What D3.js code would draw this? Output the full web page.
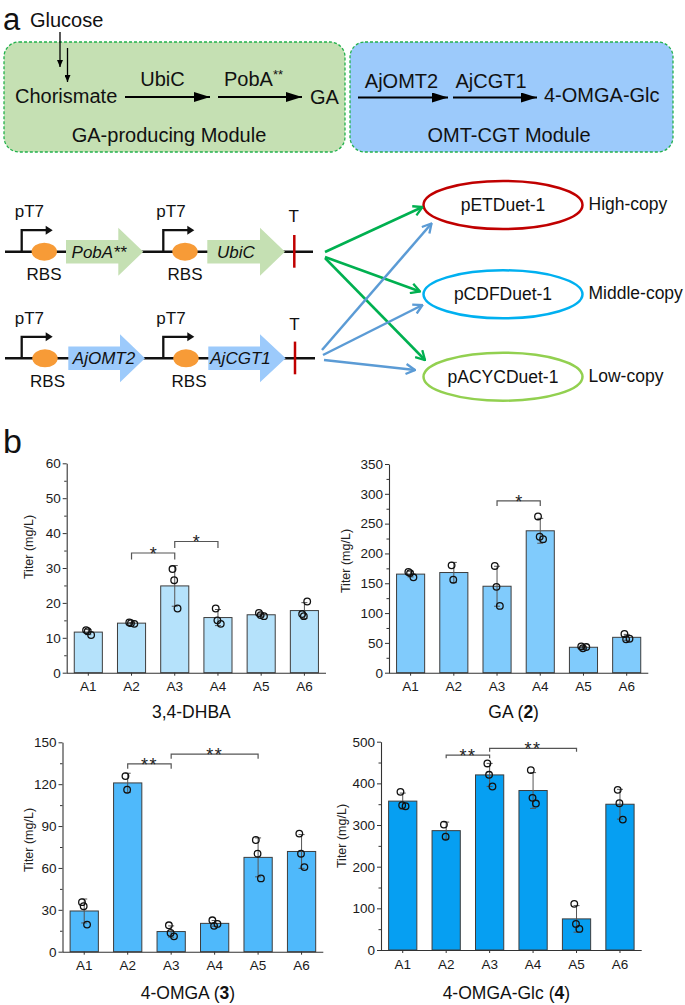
<!DOCTYPE html>
<html>
<head>
<meta charset="utf-8">
<script src="https://cdn.jsdelivr.net/npm/d3@7"></script>
<style>
  body { margin: 0; background: #fff; }
  svg { display: block; font-family: "Liberation Sans", Arial, sans-serif; }
</style>
</head>
<body>
<div id="fig"></div>
<script>
// categories
var groups = ["A1", "A2", "A3", "A4", "A5", "A6"];

// replicate titers (mg/L)
var dhbaReps = [[12.2, 11.9, 10.8], [14.4, 14.2, 14.0], [29.7, 26.5, 18.4], [18.4, 15.0, 14.0], [17.1, 16.5, 16.2], [16.8, 16.2, 20.4]];
var gaReps = [[169, 167, 160], [180, 156], [179, 144, 112], [262, 228, 224], [44, 41, 43], [65, 56, 57]];
var omgaReps = [[35.5, 32.6, 19.4], [125.8, 116.0], [18.9, 13.4, 11.0], [22.5, 18.5, 19.9], [80.0, 70.2, 52.5], [84.6, 70.2, 60.6]];
var glcReps = [[379.6, 347.5, 345.0], [301, 272], [447.8, 420.5, 392.5], [431.8, 365.2, 351.5], [110.8, 62.6, 50.6], [384.4, 352.3, 313]];

// significance brackets: from group, to group, level (mg/L), mark
var dhbaSig = [["A2", "A3", 34.3, "*"], ["A3", "A4", 37.6, "*"]];
var gaSig = [["A3", "A4", 288, "*"]];
var omgaSig = [["A2", "A3", 134.5, "**"], ["A3", "A5", 141.5, "**"]];
var glcSig = [["A2", "A3", 468, "**"], ["A3", "A5", 484, "**"]];

// axis maxima and major tick steps
var yMax = [60, 350, 150, 500];
var yStep = [10, 50, 30, 100];
var titleMain = ["3,4-DHBA", "GA", "4-OMGA", "4-OMGA-Glc"];
var titleNo = [null, "2", "3", "4"];

var svg = d3.select("#fig").append("svg")
  .attr("width", 685)
  .attr("height", 1005);

svg.append("rect").attr("width", 685).attr("height", 1005).attr("fill", "#fff");

var defs = svg.append("defs");
function headMarker(id, len, half, color, open) {
  defs.append("marker")
    .attr("id", id)
    .attr("markerUnits", "userSpaceOnUse")
    .attr("viewBox", `0 0 ${len} ${half * 2}`)
    .attr("refX", open ? len - 1 : len)
    .attr("refY", half)
    .attr("markerWidth", len)
    .attr("markerHeight", half * 2)
    .attr("orient", "auto")
    .append("path")
    .attr("d", open ? `M1,1 L${len - 1},${half} L1,${half * 2 - 1}` : `M0,0 L${len},${half} L0,${half * 2} Z`)
    .attr("fill", open ? "none" : color)
    .attr("stroke", open ? color : "none")
    .attr("stroke-width", open ? 2.3 : 0)
    .attr("stroke-linejoin", "miter");
}
headMarker("bigHead", 16, 5, "#000", false);
headMarker("smallHead", 7, 3, "#000", false);
headMarker("greenHead", 11, 6, "#00b050", true);
headMarker("blueHead", 11, 6, "#5b9bd5", true);

function label(x, y, txt, size, anchor, extra) {
  var t = svg.append("text")
    .attr("x", x).attr("y", y)
    .attr("font-size", size)
    .attr("text-anchor", anchor || "start")
    .attr("fill", "#111")
    .text(txt);
  if (extra) extra(t);
  return t;
}

// ---------- panel a: modules ----------
label(3, 30, "a", 31);
label(30, 27, "Glucose", 20);

svg.append("rect").attr("x", 4).attr("y", 42).attr("width", 341).attr("height", 110).attr("rx", 15)
  .attr("fill", "#c5e0b3").attr("stroke", "#22b14c").attr("stroke-width", 1.3).attr("stroke-dasharray", "3,2");
svg.append("rect").attr("x", 350).attr("y", 42).attr("width", 323).attr("height", 110).attr("rx", 15)
  .attr("fill", "#9ccafb").attr("stroke", "#22b14c").attr("stroke-width", 1.3).attr("stroke-dasharray", "3,2");

function arrow(x1, y1, x2, y2, w, marker, color) {
  svg.append("line")
    .attr("x1", x1).attr("y1", y1).attr("x2", x2).attr("y2", y2)
    .attr("stroke", color || "#000").attr("stroke-width", w)
    .attr("marker-end", `url(#${marker})`);
}
arrow(60, 32, 60, 67, 1.3, "smallHead");
arrow(67.5, 48, 67.5, 82, 1.3, "smallHead");

label(15, 103, "Chorismate", 20);
arrow(125, 97, 210, 97, 2, "bigHead");
label(162.5, 86, "UbiC", 20, "middle");
arrow(218, 97, 302, 97, 2, "bigHead");
label(224, 86, "PobA", 20);
label(273, 79, "**", 13);
label(310, 103.5, "GA", 20);
label(169, 142, "GA-producing Module", 20, "middle");

arrow(358, 97.5, 448, 97.5, 2, "bigHead");
label(401.5, 87.5, "AjOMT2", 20, "middle");
arrow(453, 97.5, 537, 97.5, 2, "bigHead");
label(491, 87.5, "AjCGT1", 20, "middle");
label(544, 102, "4-OMGA-Glc", 20);
label(509, 142, "OMT-CGT Module", 20, "middle");

// ---------- panel a: constructs ----------
var rows = [
  { y: 251.7, end: 313, prom: [21.7, 163.3], rbs: [44.3, 185], rbsText: [44, 185], tY: 30,
    genes: [[66, 118.3, 143.3, "PobA**", 99], [207.3, 260, 285, "UbiC", 236]], fill: "#c5e0b3", term: 294.3 },
  { y: 358.3, end: 315, prom: [21.7, 163.3], rbs: [45, 186], rbsText: [47.5, 189], tY: 28.5,
    genes: [[68.3, 120, 145, "AjOMT2", 104], [208.3, 260, 285.7, "AjCGT1", 240.5]], fill: "#9ccafb", term: 295 }
];

rows.forEach(function (r) {
  svg.append("line").attr("x1", 5).attr("x2", r.end).attr("y1", r.y).attr("y2", r.y)
    .attr("stroke", "#111").attr("stroke-width", 2.5);
  r.prom.forEach(function (px) {
    svg.append("path")
      .attr("d", `M${px},${r.y} V${r.y - 21.5} H${px + 25}`)
      .attr("fill", "none").attr("stroke", "#111").attr("stroke-width", 2.3);
    svg.append("path")
      .attr("d", `M${px + 24},${r.y - 26} L${px + 31},${r.y - 21.5} L${px + 24},${r.y - 17} Z`)
      .attr("fill", "#111");
    label(px - 7, r.y - 34.4, "pT7", 17);
  });
  r.rbs.forEach(function (cx) {
    svg.append("ellipse").attr("cx", cx).attr("cy", r.y).attr("rx", 12.7).attr("ry", 9).attr("fill", "#f79b37");
  });
  r.rbsText.forEach(function (cx) { label(cx, r.y + 28.4, "RBS", 17, "middle"); });
  r.genes.forEach(function (gn) {
    var x0 = gn[0], xh = gn[1], xt = gn[2], yc = r.y;
    svg.append("path")
      .attr("d", `M${x0},${yc - 11.7} H${xh} V${yc - 24} L${xt},${yc} L${xh},${yc + 24} V${yc + 11.7} H${x0} Z`)
      .attr("fill", r.fill);
    label(gn[4], yc + 6, gn[3], 17, "middle", function (t) { t.attr("font-style", "italic"); });
  });
  svg.append("line").attr("x1", r.term).attr("x2", r.term).attr("y1", r.y - 16.7).attr("y2", r.y + 16)
    .attr("stroke", "#c00000").attr("stroke-width", 2.5);
  label(r.term - 0.5, r.y - r.tY, "T", 17, "middle");
});

// plasmids
var plasmids = ["pETDuet-1", "pCDFDuet-1", "pACYCDuet-1"];
var copyLabels = ["High-copy", "Middle-copy", "Low-copy"];
var plasmidColors = ["#c00000", "#00b0f0", "#92d050"];
var plasmidY = [205, 294.3, 376.7];
plasmids.forEach(function (p, i) {
  svg.append("ellipse").attr("cx", 503).attr("cy", plasmidY[i]).attr("rx", 79.5).attr("ry", 24)
    .attr("fill", "#fff").attr("stroke", plasmidColors[i]).attr("stroke-width", 2.5);
  label(503, plasmidY[i] + 6, p, 17.5, "middle");
  label(588.5, plasmidY[i] + 5, copyLabels[i], 17.5);
});

arrow(325, 252, 422.5, 207, 2.5, "greenHead", "#00b050");
arrow(325, 257, 420, 291.5, 2.5, "greenHead", "#00b050");
arrow(325, 258, 425, 360, 2.5, "greenHead", "#00b050");
arrow(322, 350, 431.5, 223.5, 2.5, "blueHead", "#5b9bd5");
arrow(323, 355, 422.5, 305, 2.5, "blueHead", "#5b9bd5");
arrow(324, 360, 415, 370, 2.5, "blueHead", "#5b9bd5");

// ---------- panel b: bar charts ----------
label(3, 453, "b", 34);

var layouts = [
  { left: 66.7, right: 326, top: 463.3, bottom: 672.7, fill: "#b5e2fb", drop: 6.5, ylx: 33, yly: 547, titleY: 717.5 },
  { left: 389, right: 648.3, top: 464, bottom: 672.7, fill: "#80cbfc", drop: 5, ylx: 349.5, yly: 561, titleY: 717.5 },
  { left: 62.5, right: 323.3, top: 742.3, bottom: 951.7, fill: "#4fb9fb", drop: 4.7, ylx: 33, yly: 840, titleY: 999 },
  { left: 381, right: 641.7, top: 741.7, bottom: 950, fill: "#069ff2", drop: 3.3, ylx: 346, yly: 836, titleY: 999 }
];
var allReps = [dhbaReps, gaReps, omgaReps, glcReps];
var allSig = [dhbaSig, gaSig, omgaSig, glcSig];
var jitterFrac = [-0.08, -0.02, 0.1];

allReps.forEach(function (reps, k) {
  var L = layouts[k];
  var g = svg.append("g");

  var x = d3.scaleBand().domain(groups).range([L.left, L.right]).paddingInner(0.35).paddingOuter(0.175);
  var y = d3.scaleLinear().domain([0, yMax[k]]).range([L.bottom, L.top]);

  var stats = reps.map(function (r, i) {
    return { g: groups[i], mean: d3.mean(r), sd: d3.deviation(r) || 0, reps: r };
  });

  // bars
  g.selectAll("rect.bar").data(stats).join("rect")
    .attr("class", "bar")
    .attr("x", d => x(d.g))
    .attr("y", d => y(d.mean))
    .attr("width", x.bandwidth())
    .attr("height", d => y(0) - y(d.mean))
    .attr("fill", L.fill)
    .attr("stroke", "#3d3d3d")
    .attr("stroke-width", 1);

  // error bars (mean +/- SD)
  var cx = d => x(d.g) + x.bandwidth() / 2;
  var eb = g.selectAll("g.eb").data(stats).join("g").attr("class", "eb")
    .attr("stroke", "#555").attr("stroke-width", 1);
  eb.append("line").attr("x1", cx).attr("x2", cx)
    .attr("y1", d => y(d.mean - d.sd)).attr("y2", d => y(d.mean + d.sd));
  eb.append("line").attr("x1", d => cx(d) - 3).attr("x2", d => cx(d) + 3)
    .attr("y1", d => y(d.mean + d.sd)).attr("y2", d => y(d.mean + d.sd));
  eb.append("line").attr("x1", d => cx(d) - 3).attr("x2", d => cx(d) + 3)
    .attr("y1", d => y(d.mean - d.sd)).attr("y2", d => y(d.mean - d.sd));

  // replicate points
  var pts = [];
  stats.forEach(function (d) {
    d.reps.forEach(function (v, j) { pts.push({ g: d.g, v: v, j: j }); });
  });
  g.selectAll("circle.pt").data(pts).join("circle")
    .attr("class", "pt")
    .attr("cx", d => x(d.g) + x.bandwidth() * (0.5 + jitterFrac[d.j]))
    .attr("cy", d => y(d.v))
    .attr("r", 3.3)
    .attr("fill", "none")
    .attr("stroke", "#111")
    .attr("stroke-width", 1.3);

  // axes
  g.append("g")
    .attr("transform", `translate(${L.left},0)`)
    .call(d3.axisLeft(y).tickValues(d3.range(0, yMax[k] + 0.001, yStep[k])).tickSize(4).tickSizeOuter(0).tickPadding(2));
  g.append("g")
    .attr("transform", `translate(${L.left},0)`)
    .call(d3.axisLeft(y).tickValues(d3.range(yStep[k] / 2, yMax[k], yStep[k])).tickSize(2.5).tickFormat(""))
    .select(".domain").remove();
  var xAxis = g.append("g")
    .attr("transform", `translate(0,${L.bottom})`)
    .call(d3.axisBottom(x).tickSize(3).tickSizeOuter(0).tickPadding(6));
  g.selectAll(".domain").attr("stroke", "#333").attr("stroke-width", 1.1);
  g.selectAll(".tick line").attr("stroke", "#333");
  g.selectAll(".tick text").attr("font-size", 13.5).attr("fill", "#1a1a1a")
    .attr("font-family", "Liberation Sans, Arial, sans-serif");
  xAxis.select(".domain").attr("d", `M${L.left},0.5H${L.right}`);

  // axis title
  g.append("text")
    .attr("transform", `translate(${L.ylx},${L.yly}) rotate(-90)`)
    .attr("text-anchor", "middle")
    .attr("font-size", 12.5)
    .attr("fill", "#222")
    .text("Titer (mg/L)");

  // chart title
  var t = g.append("text")
    .attr("x", (L.left + L.right) / 2 - 5)
    .attr("y", L.titleY)
    .attr("text-anchor", "middle")
    .attr("font-size", 17.5)
    .attr("fill", "#111");
  t.append("tspan").text(titleMain[k]);
  if (titleNo[k]) {
    t.append("tspan").text(" (");
    t.append("tspan").attr("font-weight", "bold").text(titleNo[k]);
    t.append("tspan").text(")");
  }

  // significance brackets
  allSig[k].forEach(function (s) {
    var x1 = x(s[0]) + x.bandwidth() / 2;
    var x2 = x(s[1]) + x.bandwidth() / 2;
    var yl = y(s[2]);
    g.append("path")
      .attr("d", `M${x1},${yl + L.drop} V${yl} H${x2} V${yl + L.drop}`)
      .attr("fill", "none").attr("stroke", "#555").attr("stroke-width", 1.2);
    g.append("text")
      .attr("x", (x1 + x2) / 2)
      .attr("y", yl + 7)
      .attr("text-anchor", "middle")
      .attr("font-size", 18)
      .attr("letter-spacing", s[3].length > 1 ? 1.5 : 0)
      .attr("fill", "#222")
      .text(s[3]);
  });
});
</script>
</body>
</html>
